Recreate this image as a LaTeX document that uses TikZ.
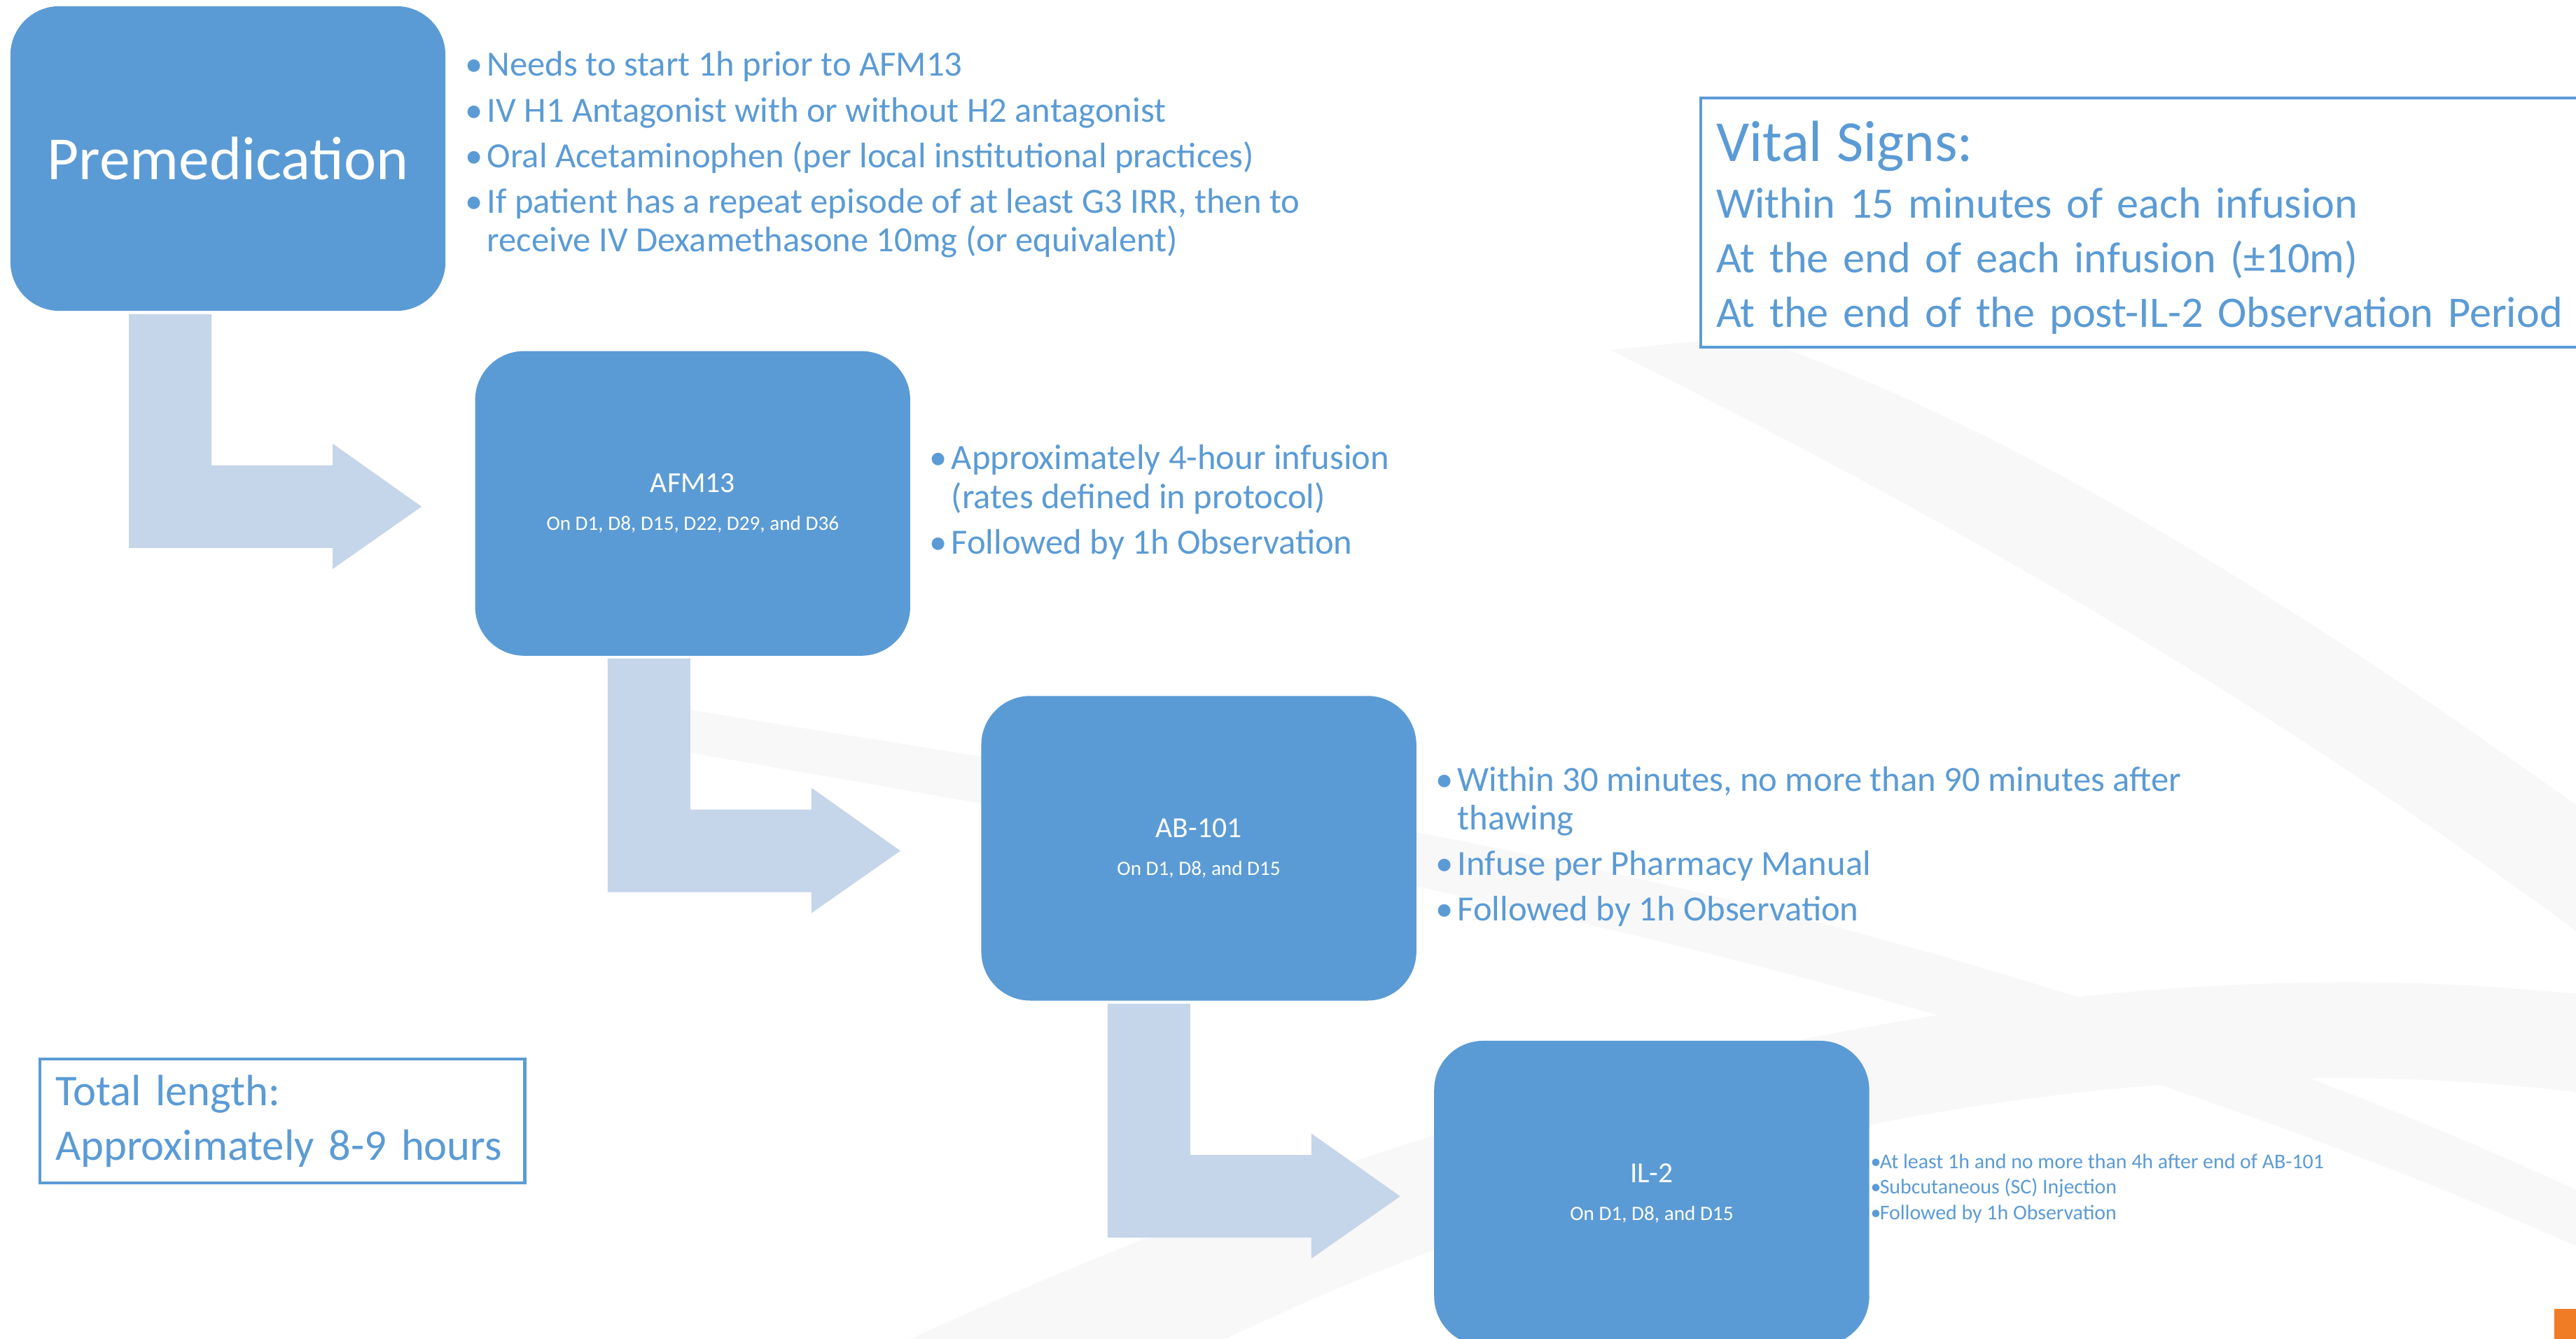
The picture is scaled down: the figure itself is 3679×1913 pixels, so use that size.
\documentclass[tikz,border=0pt]{standalone}
\usepackage{fontspec}
\setmainfont{Carlito}
\usetikzlibrary{calc,positioning}

\definecolor{boxblue}{HTML}{5B9BD5}
\definecolor{flowblue}{HTML}{C5D5EA}
\definecolor{tabOrange}{HTML}{F07D26}
\definecolor{swooshgray}{HTML}{F8F8F8}

% bullet list: bullet column of width #1
\newcommand{\bulletlist}[2][0.31cm]{\begin{tabular}[t]{@{}p{#1}@{}l@{}}#2\end{tabular}}

\begin{document}
\begin{tikzpicture}[x=0.01cm,y=-0.01cm]
\tikzset{
stage/.style = {fill=boxblue, text=white, rounded corners=0.7cm, minimum width=6.21cm, minimum height=4.35cm, align=center, inner sep=0pt},
notes/.style = {text=boxblue, anchor=base west, inner sep=0pt, font=\fontsize{14.4}{15.65}\selectfont},
infobox/.style = {draw=boxblue, line width=1.2pt, fill=white, anchor=north west, text=boxblue, align=left, inner xsep=0.22cm, inner ysep=0pt},
flow/.style = {fill=flowblue},
swoosh/.style = {fill=swooshgray},
bentarrow/.pic = {\fill[flow] (0,0) -- (118,0) -- (118,216) -- (291,216) -- (291,185) -- (418,275) -- (291,364) -- (291,334) -- (0,334) -- cycle;}
}

\useasboundingbox (0,0) rectangle (3679,1913);
\fill[white] (0,0) rectangle (3679,1913);

% background
\fill[swoosh] (1300,1913) .. controls (2200,1500) and (3000,1350) .. (3679,1420) -- (3679,1560) .. controls (3000,1480) and (2300,1650) .. (1750,1913) -- cycle;
\fill[swoosh] (2300,500) .. controls (2900,800) and (3300,1050) .. (3679,1330) -- (3679,1150) .. controls (3300,880) and (2900,620) .. (2500,480) -- cycle;
\fill[swoosh] (900,1000) .. controls (1800,1150) and (2700,1250) .. (3679,1700) -- (3679,1780) .. controls (2700,1350) and (1800,1220) .. (900,1060) -- cycle;

% stages
\node [stage, font=\fontsize{24.9}{29}\selectfont] (premed) at (325.5,226.5) {Premedication};
\node [stage, below right=0.56cm and 0.41cm of premed, font=\fontsize{11.8}{15.4}\selectfont] (afm) {AFM13\\{\fontsize{8.3}{9}\selectfont On D1, D8, D15, D22, D29, and D36}};
\node [stage, below right=0.56cm and 1.0cm of afm, font=\fontsize{11.8}{15.4}\selectfont] (ab) {AB-101\\{\fontsize{8.3}{9}\selectfont On D1, D8, and D15}};
\node [stage, below right=0.56cm and 0.24cm of ab, font=\fontsize{11.8}{15.4}\selectfont] (il) {IL-2\\{\fontsize{8.3}{9}\selectfont On D1, D8, and D15}};

% flow arrows
\pic at ($(premed.south west)+(170,4)$) {bentarrow};
\pic at ($(afm.south west)+(190,3)$) {bentarrow};
\pic at ($(ab.south west)+(181,4)$) {bentarrow};

% notes
\node [notes] (premednotes) at (664,109) {\bulletlist{
\textbullet & Needs to start 1h prior to AFM13\\[2.85pt]
\textbullet & IV H1 Antagonist with or without H2 antagonist\\[2.85pt]
\textbullet & Oral Acetaminophen (per local institutional practices)\\[2.85pt]
\textbullet & If patient has a repeat episode of at least G3 IRR, then to\\
 & receive IV Dexamethasone 10mg (or equivalent)}};
\node [notes] (afmnotes) at (1327,671) {\bulletlist{
\textbullet & Approximately 4-hour infusion\\
 & (rates defined in protocol)\\[2.85pt]
\textbullet & Followed by 1h Observation}};
\node [notes] (abnotes) at (2050,1130) {\bulletlist{
\textbullet & Within 30 minutes, no more than 90 minutes after\\
 & thawing\\[2.85pt]
\textbullet & Infuse per Pharmacy Manual\\[2.85pt]
\textbullet & Followed by 1h Observation}};
\node [notes, font=\fontsize{8.5}{10.5}\selectfont] (ilnotes) at (2671,1669) {\bulletlist[0.13cm]{
\textbullet & At least 1h and no more than 4h after end of AB-101\\
\textbullet & Subcutaneous (SC) Injection\\
\textbullet & Followed by 1h Observation}};

% info boxes
\node [infobox, text width=12.29cm, minimum height=3.56cm, font=\fontsize{17.7}{22.2}\selectfont] (vitals) at (2427,138) {\rule{0pt}{20.5pt}{\fontsize{23.6}{29}\selectfont Vital Signs:}\\[0.8pt]
Within 15 minutes of each infusion\\
At the end of each infusion (±10m)\\
At the end of the post-IL-2 Observation Period};
\node [infobox, text width=6.48cm, minimum height=1.77cm, font=\fontsize{17.8}{22.2}\selectfont] (total) at (55,1511) {\mbox{Total length:}\\
\mbox{Approximately 8-9 hours}};

\fill[tabOrange] (3648,1870) rectangle (3679,1913);
\end{tikzpicture}
\end{document}
